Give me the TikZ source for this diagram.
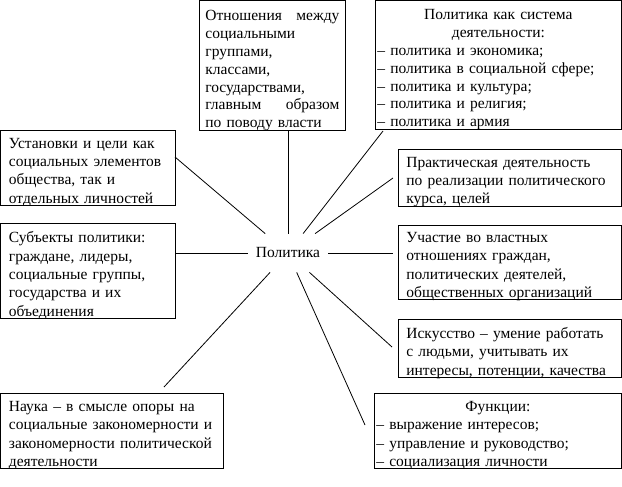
\documentclass[tikz,border=0pt]{standalone}
\usepackage{fontspec}
\setmainfont{Liberation Serif}
\begin{document}
\begin{tikzpicture}[x=1pt, y=-1pt, line width=0.8pt,
        every node/.style={font=\fontsize{15.5}{18.3}\selectfont},
        box/.style={draw, anchor=north west, align=left, inner xsep=#1, inner ysep=0pt},
        box/.default=8pt,
        tight/.style={font=\fontsize{15.5}{17.8}\selectfont}]
    \fill[white] (0,0) rectangle (622,487);
    \useasboundingbox (0,0) rectangle (622,487);
    % centre
    \node[minimum width=80pt, minimum height=38pt] (pol) at (288,253) {Политика};
    % boxes
    \node[box=6pt, tight, text width=134pt, text height=20pt, text depth=110pt] (otn) at (199,0.5)
        {Отношения\hfill между\\ социальными\\ группами,\\ классами,\\ государствами,\\ главным\hfill образом\\ по поводу власти};
    \node[box=2pt, tight, text width=242pt, text height=19pt, text depth=110pt] (sys) at (375,0.5)
        {\makebox[242pt]{Политика как система}\\ \makebox[242pt]{деятельности:}\\
         – политика и экономика;\\ – политика в социальной сфере;\\ – политика и культура;\\
         – политика и религия;\\ – политика и армия};
    \node[box, text width=158pt, text height=18pt, text depth=57pt] (ust) at (0.5,130)
        {Установки и цели как\\ социальных элементов\\ общества, так и\\ отдельных личностей};
    \node[box, text width=158pt, text height=19.5pt, text depth=75.5pt] (sub) at (0.5,223)
        {Субъекты политики:\\ граждане, лидеры,\\ социальные группы,\\ государства и их\\ объединения};
    \node[box, text width=207pt, text height=18pt, text depth=39pt] (prak) at (398,149)
        {Практическая деятельность\\ по реализации политического\\ курса, целей};
    \node[box, text width=207pt, text height=17pt, text depth=57pt] (uch) at (398,225)
        {Участие во властных\\ отношениях граждан,\\ политических деятелей,\\ общественных организаций};
    \node[box, text width=207pt, text height=19pt, text depth=39pt] (isk) at (398,319)
        {Искусство – умение работать\\ с людьми, учитывать их\\ интересы, потенции, качества};
    \node[box, text width=206pt, text height=18pt, text depth=57pt] (nauka) at (0.5,393)
        {Наука – в смысле опоры на\\ социальные закономерности и\\ закономерности политической\\ деятельности};
    \node[box=2pt, text width=243pt, text height=18pt, text depth=57pt] (func) at (374,393)
        {\makebox[243pt]{Функции:}\\ – выражение интересов;\\ – управление и руководство;\\ – социализация личности};
    % free ends
    \coordinate (s1) at (383,131);
    \coordinate (u1) at (175,157);
    \coordinate (p1) at (393,178);
    \coordinate (c1) at (393,253);
    \coordinate (i1) at (392,347);
    \coordinate (f1) at (365,425);
    \coordinate (n1) at (164,387);
    % rays
    \draw (pol) -- (pol |- otn.south);
    \draw (pol) -- (s1);
    \draw (pol) -- (u1);
    \draw (pol) -- (pol -| sub.east);
    \draw (pol) -- (p1);
    \draw (pol) -- (c1);
    \draw (pol) -- (i1);
    \draw (pol) -- (f1);
    \draw (pol) -- (n1);
\end{tikzpicture}
\end{document}
